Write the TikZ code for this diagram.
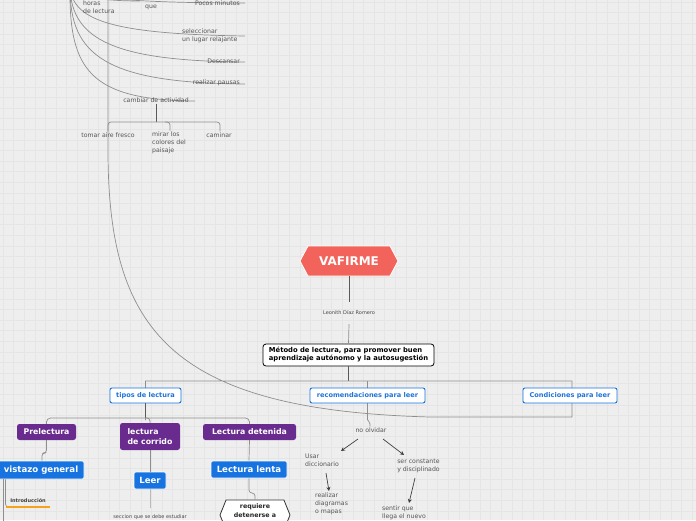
\documentclass[tikz,border=0pt]{standalone}
\usepackage{fontspec}
\setmainfont{DejaVu Sans}
\usetikzlibrary{shapes.symbols,arrows.meta}
\definecolor{bgc}{HTML}{EEEEEE}
\definecolor{gridc}{HTML}{E5E5E5}
\definecolor{connc}{HTML}{8E8E8E}
\definecolor{darkc}{HTML}{5A5A5A}
\definecolor{redc}{HTML}{F2635B}
\definecolor{purc}{HTML}{6A2B8F}
\definecolor{bluc}{HTML}{1673E0}
\definecolor{btxt}{HTML}{1F73D9}
\definecolor{txtc}{HTML}{555555}
\definecolor{orc}{HTML}{F7A21B}
\tikzset{
 conn/.style={draw=connc, line width=0.7pt},
 dconn/.style={draw=darkc, line width=0.9pt},
 arr/.style={draw=darkc!70!black, line width=0.7pt, -{Stealth[length=4pt,width=4pt]}},
 gtext/.style={text=txtc, font=\fontsize{6.2}{8}\selectfont, align=left, inner sep=1pt},
 tiny/.style={text=darkc!80!black, font=\fontsize{5}{6}\selectfont, inner sep=1pt},
 topic/.style={draw=bluc, fill=white, text=btxt, font=\bfseries\fontsize{6.6}{7}\selectfont, rounded corners=2pt, line width=0.9pt, inner xsep=3pt, minimum height=15pt},
 purp/.style={fill=purc, text=white, font=\bfseries\fontsize{7.8}{9.5}\selectfont, rounded corners=2.5pt, inner xsep=4pt, minimum height=16pt, align=left},
 bbox/.style={fill=bluc, draw=white, line width=0.6pt, text=white, font=\bfseries\fontsize{8.6}{9}\selectfont, rounded corners=2pt, inner xsep=4pt, minimum height=18pt},
}
\begin{document}
\begin{tikzpicture}[x=1pt,y=-1pt]
\useasboundingbox (0,0) rectangle (696,520);
\clip (0,0) rectangle (696,520);
\fill[bgc] (0,0) rectangle (696,520);
\foreach \i in {0,...,66} \draw[gridc, line width=0.4pt] (\i*10.6+3,0) -- (\i*10.6+3,520);
\foreach \i in {0,...,50} \draw[gridc, line width=0.4pt] (0,\i*10.6+2) -- (696,\i*10.6+2);

% ---------- top-left group ----------
\coordinate (src) at (70,-12);
\coordinate (e1) at (245,3);
\coordinate (e2) at (245,36);
\coordinate (e3) at (245,62);
\coordinate (e4) at (245,84);
\coordinate (e5) at (195,101);
\coordinate (e0) at (140,1);
\draw[conn] (src) .. controls (72,-4) and (100,1) .. (e0);
\draw[conn] (src) .. controls (74,-4) and (120,3) .. (e1);
\draw[conn] (src) .. controls (74,20) and (110,34) .. (e2);
\draw[conn] (src) .. controls (72,40) and (115,61) .. (e3);
\draw[conn] (src) .. controls (70,55) and (105,83) .. (e4);
\draw[conn] (src) .. controls (69,70) and (90,100) .. (e5);

\node[gtext, anchor=west] (horas) at (82,7) {horas\\de lectura};
\node[gtext, anchor=west] (que) at (144,7) {que};
\node[gtext, anchor=east] (pocos) at (241,3) {Pocos minutos};
\node[gtext, anchor=west] (sel) at (181,36) {seleccionar\\un lugar relajante};
\node[gtext, anchor=east] (desc) at (241,61) {Descansar};
\node[gtext, anchor=east] (paus) at (241,83) {realizar pausas};
\node[gtext] (camb) at (156,100) {cambiar de actividad};
\node[gtext] (tomar) at (108,135) {tomar aire fresco};
\node[gtext, anchor=north west] (mirar) at (151,130.5) {mirar los\\colores del\\paisaje};
\node[gtext] (cam) at (219,135) {caminar};

\draw[dconn] (camb.south) -- (camb.south |- 0,122);
\draw[conn, rounded corners=3pt] (tomar.north -| 108,0) -- (108,122) -- (220,122) -- (cam.north -| 220,0);
\draw[conn, rounded corners=3pt] (165,122) -- (170,122) -- (mirar.north -| 170,0);

% ---------- center ----------
\node[signal, signal to=west and east, signal pointer angle=124, fill=redc, draw=white, line width=0.8pt,
      minimum width=98pt, minimum height=30pt, text=white, font=\bfseries\fontsize{12}{12}\selectfont] (vaf) at (349,261) {VAFIRME};
\node[tiny, minimum height=22pt] (leo) at (349,313) {Leonith Díaz Romero};
\node[draw=black, fill=white, rounded corners=3pt, line width=0.8pt, minimum width=171pt, minimum height=22pt,
      align=left, font=\bfseries\fontsize{6.8}{8}\selectfont] (met) at (348.5,355) {Método de lectura, para promover buen\\aprendizaje autónomo y la autosugestión};
\draw[dconn] (vaf.south) -- (leo.north);
\draw[conn] (leo.south) -- (met.north);

\coordinate (bar) at (0,381);
\draw[dconn] (met.south) -- (met.south |- bar);
\draw[conn] (145.5,420) -- (145.5,381) -- (572,381) -- (572,417) -- (430,417)
   .. controls (170,410) and (108,330) .. (108,150) -- (108,-5);
\draw[conn] (367.5,381) -- (367.5,420);

\node[topic, minimum width=71pt] (tipos) at (145.5,395.5) {tipos de lectura};
\node[topic, minimum width=115pt] (reco) at (367.5,395.5) {recomendaciones para leer};
\node[topic, minimum width=94pt] (cond) at (570,395.5) {Condiciones para leer};

% ---------- tipos de lectura ----------
\node[purp, minimum width=59pt] (pre) at (46.5,432) {Prelectura};
\node[purp, minimum width=60pt, minimum height=27pt] (corr) at (150,436.5) {lectura\\de corrido};
\node[purp, minimum width=93pt] (det) at (249.5,432) {Lectura detenida};
\draw[dconn] (tipos.south) -- (tipos.south |- 0,418);
\draw[conn, rounded corners=4pt] (pre.north) -- (46.5,418) -- (249.5,418) -- (det.north);
\draw[conn, rounded corners=3pt] (145.5,418) -- (150,418) -- (corr.north);

\node[bbox, minimum width=86pt] (vis) at (41,470) {vistazo general};
\node[bbox, minimum width=32pt, minimum height=17pt] (leer) at (150,480.5) {Leer};
\node[bbox, minimum width=76pt, minimum height=17pt] (lenta) at (249,469.5) {Lectura lenta};
\draw[conn, rounded corners=3pt] (pre.south) -- (46.5,453) -- (42,453) -- (vis.north -| 42,0);
\draw[conn] (corr.south) -- (leer.north);
\draw[conn] (det.south) -- (lenta.north);

\node[tiny, text=black!75, font=\bfseries\fontsize{5}{6}\selectfont] (intro) at (28,500.5) {Introducción};
\draw[conn] (vis.south -| 3,0) -- (3,525);
\draw[conn, rounded corners=3pt] (vis.south -| 5.5,0) -- (5.5,507) -- (intro.south west |- 0,507);
\draw[orc, line width=2.2pt] (6,507) -- (50,507);

\node[tiny] (secc) at (150,517) {seccion que se debe estudiar};
\draw[conn, draw=connc!60] (leer.south) -- (150,508);

\node[signal, signal to=west and east, signal pointer angle=136, fill=white, draw=black!80, line width=0.8pt,
      minimum width=70pt, minimum height=30pt, align=center, font=\bfseries\fontsize{6.3}{8.5}\selectfont, text=black!85] (req) at (255,515) {requiere\\detenerse a\\};
\draw[conn, rounded corners=3pt] (lenta.south) -- (249,493) -- (255,493) -- (req.north);

% ---------- recomendaciones ----------
\node[gtext] (noolv) at (371,430) {no olvidar};
\node[gtext] (usar) at (322,460) {Usar\\diccionario};
\node[gtext] (ser) at (418.5,466) {ser constante\\y disciplinado};
\node[gtext, anchor=north west] (real) at (314,492) {realizar\\diagramas\\o mapas};
\node[gtext, anchor=north west] (sentir) at (381,505) {sentir que\\llega el nuevo};
\draw[conn, rounded corners=2pt] (367.5,420) -- (370,422) -- (noolv.north -| 370,0);
\draw[arr] (358,439) -- (341,451);
\draw[arr] (383,439) -- (404,455);
\draw[arr] (326,473) -- (329,491);
\draw[arr] (415,478) -- (409,503);
\end{tikzpicture}
\end{document}
